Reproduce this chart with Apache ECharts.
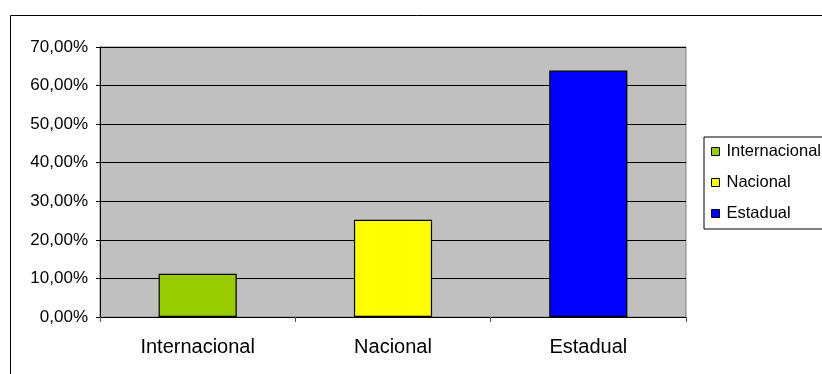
<!DOCTYPE html>
<html>
<head>
<meta charset="utf-8">
<script src="https://cdn.jsdelivr.net/npm/echarts@6/dist/echarts.min.js"></script>
<style>
  html, body { margin: 0; padding: 0; background: #fff; }
  #chart { width: 822px; height: 374px; }
</style>
</head>
<body>
<div id="chart"></div>
<script>
// Share of items by scope (percent)
var categories = ['Internacional', 'Nacional', 'Estadual'];
var values = [11.2, 25.2, 63.9];
var barColors = ['#99CC00', '#FFFF00', '#0000FF'];
var yTicks = { min: 0, max: 70, step: 10 };

var FONT = '"Liberation Sans", Arial, sans-serif';

function pct(v) {
  return v.toFixed(2).replace('.', ',') + '%';
}

// One series per category so each gets its own legend entry;
// stacking keeps every bar centred on its own category slot.
var series = categories.map(function (name, i) {
  return {
    name: name,
    type: 'bar',
    stack: 'all',
    barWidth: '40%',
    itemStyle: { color: barColors[i], borderColor: '#000', borderWidth: 1.2 },
    data: categories.map(function (c, j) { return j === i ? values[j] : '-'; })
  };
});

var chart = echarts.init(document.getElementById('chart'), null, { renderer: 'canvas' });
chart.setOption({
  animation: false,
  textStyle: { fontFamily: FONT },
  graphic: [{
    type: 'rect',
    z: -10,
    shape: { x: 10.5, y: 15.5, width: 900, height: 500 },
    style: { fill: 'none', stroke: '#000', lineWidth: 1 }
  }],
  grid: {
    left: 100, top: 47, right: 136, bottom: 57,
    show: true,
    backgroundColor: '#C0C0C0',
    borderColor: '#808080',
    borderWidth: 1
  },
  legend: {
    orient: 'vertical',
    left: 704,
    top: 137,
    padding: [6, 12, 7, 7],
    itemWidth: 8,
    itemHeight: 8,
    itemGap: 14,
    icon: 'rect',
    backgroundColor: '#fff',
    borderColor: '#000',
    borderWidth: 1,
    borderRadius: 0,
    itemStyle: { borderColor: '#000', borderWidth: 1 },
    textStyle: { fontFamily: FONT, fontSize: 16.5, color: '#000', lineHeight: 16, padding: [0, 0, 0, 2] },
    data: categories
  },
  xAxis: {
    type: 'category',
    data: categories,
    axisLine: { lineStyle: { color: '#000', width: 1 } },
    axisTick: { show: true, length: 5, lineStyle: { color: '#555' } },
    axisLabel: { fontFamily: FONT, fontSize: 20, color: '#000', margin: 20 }
  },
  yAxis: {
    type: 'value',
    min: yTicks.min,
    max: yTicks.max,
    interval: yTicks.step,
    axisLine: { show: true, lineStyle: { color: '#000', width: 1 } },
    axisTick: { show: true, length: 4, lineStyle: { color: '#000' } },
    splitLine: { show: true, lineStyle: { color: '#000', width: 1 } },
    axisLabel: { fontFamily: FONT, fontSize: 17, color: '#000', margin: 12, formatter: pct }
  },
  series: series
});
</script>
</body>
</html>
